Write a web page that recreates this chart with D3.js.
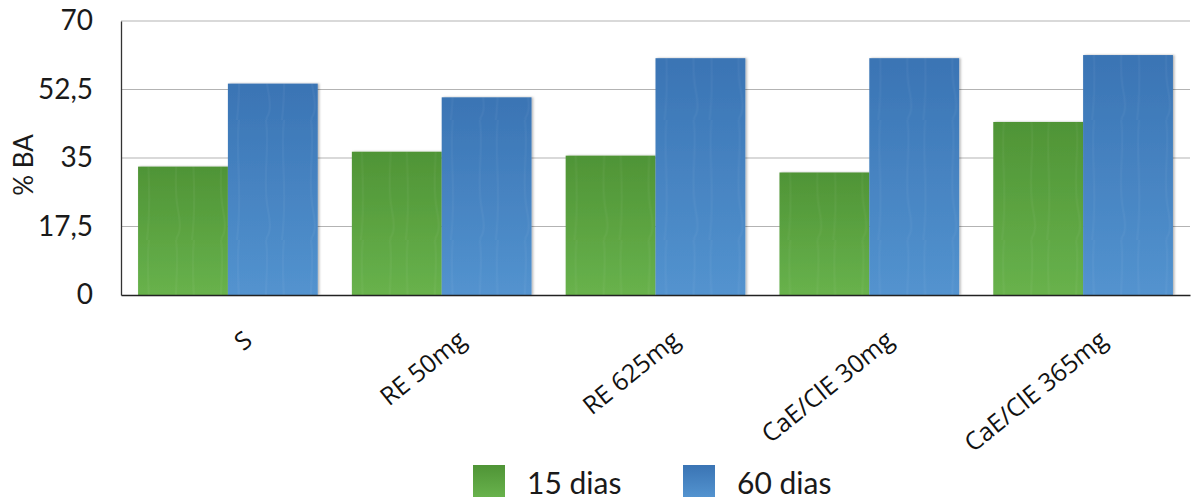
<!DOCTYPE html>
<html>
<head>
<meta charset="utf-8">
<script src="https://cdn.jsdelivr.net/npm/d3@7"></script>
<style>
  html, body { margin: 0; padding: 0; background: #fff; }
  svg { display: block; }
</style>
</head>
<body>
<svg id="chart" width="1199" height="499"></svg>
<script>
// Groups along the x axis
const categories = ["S", "RE 50mg", "RE 625mg", "CaE/ClE 30mg", "CaE/ClE 365mg"];
// Series names (legend)
const seriesNames = ["15 dias", "60 dias"];
// % BA per group for each series
const dias15 = [32.8, 36.6, 35.6, 31.3, 44.2];
const dias60 = [54.0, 50.5, 60.5, 60.5, 61.3];
// Y axis tick values
const yTickValues = [0, 17.5, 35, 52.5, 70];

const seriesValues = [dias15, dias60];

const svg = d3.select("#chart");
const plot = { left: 121, right: 1190, top: 21, bottom: 295 };

const y = d3.scaleLinear().domain([0, 70]).range([plot.bottom, plot.top]);
const x0 = d3.scaleBand().domain(categories).range([plot.left, plot.right]).padding(0);
const x1 = d3.scaleBand().domain(seriesNames).range([0, x0.bandwidth()])
  .paddingInner(0).paddingOuter(0.19);

const ptBR = d3.formatLocale({ decimal: ",", thousands: ".", grouping: [3], currency: ["", ""] });
const fmt = ptBR.format("~g");

// Gradients and a soft shadow for the bars
const defs = svg.append("defs");
const fills = [
  { id: "gGreen", top: "#4f9436", bottom: "#68b24c" },
  { id: "gBlue", top: "#3a74b4", bottom: "#5393cf" }
];
fills.forEach(f => {
  const g = defs.append("linearGradient").attr("id", f.id)
    .attr("x1", 0).attr("y1", 0).attr("x2", 0).attr("y2", 1);
  g.append("stop").attr("offset", "0%").attr("stop-color", f.top);
  g.append("stop").attr("offset", "100%").attr("stop-color", f.bottom);
});
const sh = defs.append("filter").attr("id", "shadow")
  .attr("x", "-10%").attr("y", "-10%").attr("width", "130%").attr("height", "120%");
sh.append("feDropShadow").attr("dx", 1.5).attr("dy", 0).attr("stdDeviation", 1)
  .attr("flood-color", "#000").attr("flood-opacity", 0.3);

// Faint streak texture overlay
const streak = defs.append("pattern").attr("id", "streaks")
  .attr("patternUnits", "userSpaceOnUse").attr("width", 45).attr("height", 120);
streak.append("path")
  .attr("d", "M10,0 C14,30 6,60 12,90 S8,115 11,120 M28,0 C24,35 32,70 26,120")
  .attr("fill", "none").attr("stroke", "#ffffff").attr("stroke-opacity", 0.04).attr("stroke-width", 2);

// Grid lines
svg.append("g").selectAll("line").data(yTickValues.filter(v => v > 0)).join("line")
  .attr("x1", plot.left).attr("x2", plot.right)
  .attr("y1", d => y(d)).attr("y2", d => y(d))
  .attr("stroke", "#b3b3b3").attr("stroke-width", 1.2);

// Bars
const colorIds = ["url(#gGreen)", "url(#gBlue)"];
const groups = svg.append("g").selectAll("g").data(categories).join("g")
  .attr("transform", d => `translate(${x0(d)},0)`);
const barData = (c, i) => seriesNames.map((s, k) => ({ s, k, v: seriesValues[k][i] }));
groups.selectAll("rect.bar").data(barData).join("rect").attr("class", "bar")
  .attr("x", d => x1(d.s)).attr("width", x1.bandwidth())
  .attr("y", d => y(d.v)).attr("height", d => y(0) - y(d.v))
  .attr("fill", d => colorIds[d.k])
  .attr("filter", "url(#shadow)");
groups.selectAll("rect.tex").data(barData).join("rect").attr("class", "tex")
  .attr("x", d => x1(d.s)).attr("width", x1.bandwidth())
  .attr("y", d => y(d.v)).attr("height", d => y(0) - y(d.v))
  .attr("fill", "url(#streaks)");

// Y axis
const yAxis = d3.axisLeft(y).tickValues(yTickValues).tickFormat(fmt).tickSize(0).tickPadding(28);
const yg = svg.append("g").attr("transform", `translate(${plot.left},0)`).call(yAxis);
yg.select(".domain").attr("stroke", "#333").attr("stroke-width", 1.3);
yg.selectAll("text").attr("font-family", "Lato, 'Open Sans', sans-serif")
  .attr("font-size", 28).attr("fill", "#1a1a1a");

// X axis
const xAxis = d3.axisBottom(x0).tickSize(0).tickFormat("");
const xg = svg.append("g").attr("transform", `translate(0,${plot.bottom})`).call(xAxis);
xg.select(".domain").attr("stroke", "#222").attr("stroke-width", 1.5);

// Rotated category labels
svg.append("g").selectAll("text").data(categories).join("text")
  .attr("transform", d => `translate(${x0(d) + x0.bandwidth() / 2 + 26},${plot.bottom + 48}) rotate(-39)`)
  .attr("text-anchor", "end")
  .attr("font-family", "'Open Sans', sans-serif")
  .attr("font-size", 25).attr("fill", "#111")
  .text(d => d);

// Y axis title
svg.append("text")
  .attr("transform", `translate(33,165) rotate(-90)`)
  .attr("text-anchor", "middle")
  .attr("font-family", "Lato, 'Open Sans', sans-serif")
  .attr("font-size", 26).attr("fill", "#1a1a1a")
  .text("% BA");

// Legend
const legendX = [473, 683];
const lg = svg.append("g").selectAll("g").data(seriesNames).join("g")
  .attr("transform", (d, i) => `translate(${legendX[i]},465)`);
lg.append("rect").attr("width", 32).attr("height", 32)
  .attr("fill", (d, i) => colorIds[i]);
lg.append("text").attr("x", 54).attr("y", 29)
  .attr("font-family", "Lato, 'Open Sans', sans-serif")
  .attr("font-size", 30).attr("fill", "#1a1a1a")
  .text(d => d);
</script>
</body>
</html>
